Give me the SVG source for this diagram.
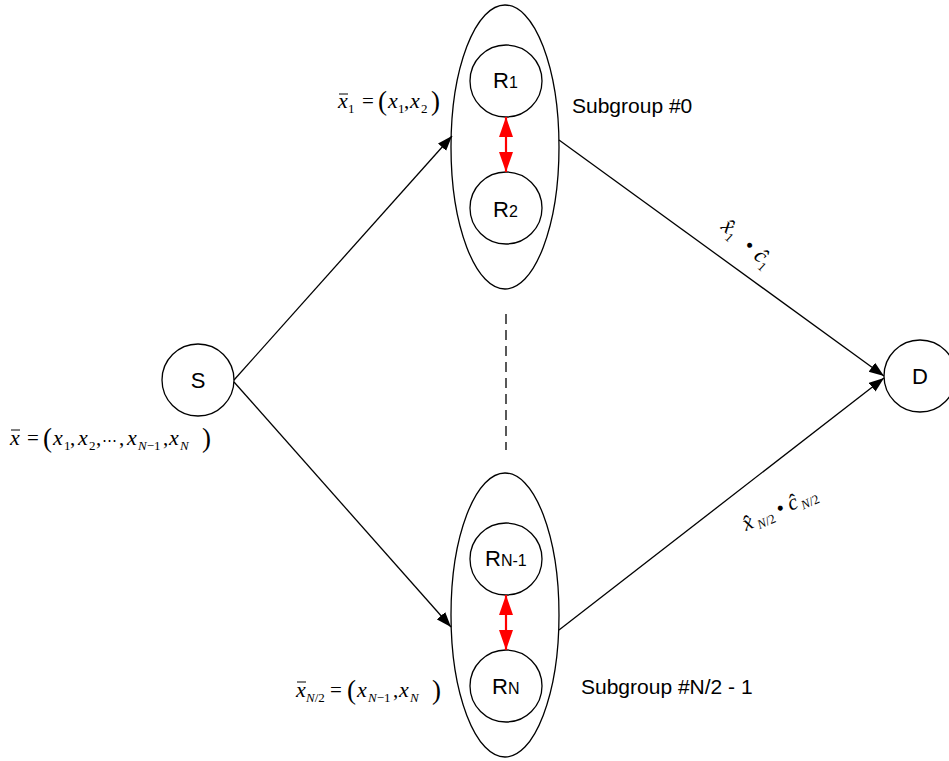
<svg xmlns="http://www.w3.org/2000/svg" width="949" height="761" viewBox="0 0 949 761">
<style>
.shape{fill:#fff;stroke:#000;stroke-width:1.3}
.conn{stroke:#000;stroke-width:1.3;fill:none}
.red{stroke:#ff0000;stroke-width:2.2;fill:none}
.lbl{font-family:"Liberation Sans",Arial,sans-serif;fill:#000}
.m{font-family:"Liberation Serif","Times New Roman",serif;fill:#000;font-size:21px}
.mi{font-family:"Liberation Serif","Times New Roman",serif;font-style:italic;fill:#000;font-size:22px}
.ms{font-family:"Liberation Serif","Times New Roman",serif;fill:#000;font-size:13px}
.msi{font-family:"Liberation Serif","Times New Roman",serif;font-style:italic;fill:#000;font-size:13px}
.par{font-family:"Liberation Serif","Times New Roman",serif;fill:#000;font-size:27px}
.bar{stroke:#000;stroke-width:1}
</style>
<defs>
<marker id="ah" markerUnits="userSpaceOnUse" markerWidth="16" markerHeight="12" refX="15" refY="5.5" orient="auto">
<path d="M0,0 L15,5.5 L0,11 Z" fill="#000"/>
</marker>
<marker id="rh" markerUnits="userSpaceOnUse" markerWidth="22" markerHeight="16" refX="20" refY="7" orient="auto-start-reverse">
<path d="M0,0 L20,7 L0,14 Z" fill="#ff0000"/>
</marker>
</defs>

<g id="subgroup0">
<ellipse class="shape" cx="505" cy="147" rx="54" ry="142"/>
<text class="lbl" x="572" y="113" font-size="21">Subgroup #0</text>
</g>
<g id="R1">
<circle class="shape" cx="506" cy="81" r="36"/>
<text class="lbl" x="493" y="88" font-size="22">R<tspan font-size="16">1</tspan></text>
</g>
<g id="R2">
<circle class="shape" cx="506" cy="208" r="36"/>
<text class="lbl" x="493" y="217" font-size="22">R<tspan font-size="16">2</tspan></text>
</g>

<g id="subgroupN">
<ellipse class="shape" cx="505" cy="615" rx="54" ry="142"/>
<text class="lbl" x="581" y="694" font-size="21">Subgroup #N/2 - 1</text>
</g>
<g id="RN1">
<circle class="shape" cx="506" cy="559" r="36"/>
<text class="lbl" x="485" y="566" font-size="22">R<tspan font-size="16">N-1</tspan></text>
</g>
<g id="RN">
<circle class="shape" cx="506" cy="686" r="36"/>
<text class="lbl" x="492" y="694" font-size="22">R<tspan font-size="16">N</tspan></text>
</g>

<g id="S">
<circle class="shape" cx="198" cy="380" r="36"/>
<text class="lbl" x="198" y="388" font-size="22" text-anchor="middle">S</text>
</g>
<g id="D">
<circle class="shape" cx="920" cy="376" r="36"/>
<text class="lbl" x="920" y="384" font-size="22" text-anchor="middle">D</text>
</g>

<g id="connectors">
<line class="conn" x1="234" y1="380" x2="452" y2="136" marker-end="url(#ah)"/>
<line class="conn" x1="234" y1="382" x2="451" y2="627" marker-end="url(#ah)"/>
<line class="conn" x1="559" y1="140" x2="884" y2="376" marker-end="url(#ah)"/>
<line class="conn" x1="559" y1="630" x2="884" y2="378" marker-end="url(#ah)"/>
<line class="red" x1="506" y1="117" x2="506" y2="172" marker-start="url(#rh)" marker-end="url(#rh)"/>
<line class="red" x1="506" y1="595" x2="506" y2="650" marker-start="url(#rh)" marker-end="url(#rh)"/>
<line x1="506" y1="314" x2="506" y2="450" stroke="#000" stroke-width="1.3" stroke-dasharray="10,6"/>
</g>

<g id="label-x1">
<text class="mi" x="338" y="108">x</text>
<line class="bar" x1="339" y1="94" x2="348" y2="94"/>
<text class="ms" x="348" y="113">1</text>
<text class="m" x="362" y="108">=</text>
<text class="par" x="378" y="110">(</text>
<text class="mi" x="388" y="108">x</text>
<text class="ms" x="398" y="113">1</text>
<text class="m" x="404" y="108">,</text>
<text class="mi" x="410" y="108">x</text>
<text class="ms" x="421" y="113">2</text>
<text class="par" x="431" y="110">)</text>
</g>

<g id="label-x">
<text class="mi" x="10" y="445">x</text>
<line class="bar" x1="11" y1="430" x2="20" y2="430"/>
<text class="m" x="27" y="445">=</text>
<text class="par" x="43" y="447">(</text>
<text class="mi" x="53" y="445">x</text>
<text class="ms" x="64" y="450">1</text>
<text class="m" x="70" y="445">,</text>
<text class="mi" x="78" y="445">x</text>
<text class="ms" x="89" y="450">2</text>
<text class="m" x="96" y="445">,</text>
<text class="m" x="102" y="445"><tspan font-size="15">⋯</tspan><tspan x="119">,</tspan></text>
<text class="mi" x="127" y="445">x</text>
<text class="msi" x="138" y="450">N<tspan font-style="normal">−1</tspan></text>
<text class="m" x="163" y="445">,</text>
<text class="mi" x="169" y="445">x</text>
<text class="msi" x="180" y="450">N</text>
<text class="par" x="202" y="447">)</text>
</g>

<g id="label-xN">
<text class="mi" x="296" y="697">x</text>
<line class="bar" x1="297" y1="682" x2="306" y2="682"/>
<text class="msi" x="306" y="702">N<tspan font-style="normal">/2</tspan></text>
<text class="m" x="330" y="697">=</text>
<text class="par" x="347" y="699">(</text>
<text class="mi" x="357" y="697">x</text>
<text class="msi" x="368" y="702">N<tspan font-style="normal">−1</tspan></text>
<text class="m" x="393" y="697">,</text>
<text class="mi" x="399" y="697">x</text>
<text class="msi" x="410" y="702">N</text>
<text class="par" x="432" y="699">)</text>
</g>

<g id="label-c1" transform="translate(720,228) rotate(42)">
<text class="mi" x="0" y="0">x&#x0302;</text>
<text class="ms" x="10" y="5">1</text>
<text class="m" x="30" y="0">•</text>
<text class="mi" x="44" y="0">c&#x0302;</text>
<text class="ms" x="54" y="5">1</text>
</g>

<g id="label-cN" transform="translate(746,531) rotate(-24)">
<text class="mi" x="0" y="0" font-size="24">x&#x0302;</text>
<text class="msi" x="13" y="4">N<tspan font-style="normal">/2</tspan></text>
<text class="m" x="37" y="0">•</text>
<text class="mi" x="49" y="0" font-size="24">c&#x0302;</text>
<text class="msi" x="61" y="4">N<tspan font-style="normal">/2</tspan></text>
</g>
</svg>
